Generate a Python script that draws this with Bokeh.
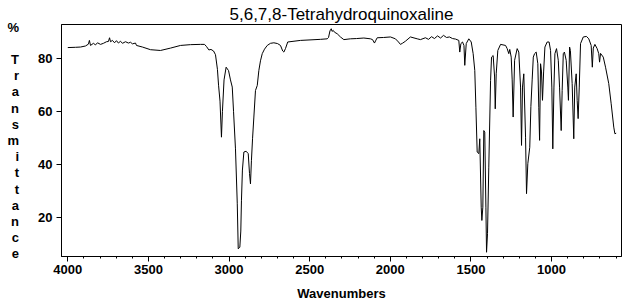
from bokeh.plotting import figure
from bokeh.models import Range1d, FixedTicker
from bokeh.embed import file_html
from bokeh.resources import INLINE

title_text = "5,6,7,8-Tetrahydroquinoxaline"
x_label = "Wavenumbers"
y_label_chars = ["%", "", "T", "r", "a", "n", "s", "m", "i", "t", "t", "a", "n", "c", "e"]

x_major_ticks = [4000, 3500, 3000, 2500, 2000, 1500, 1000]
x_minor_ticks = [4000, 3900, 3800, 3700, 3600, 3500, 3400, 3300, 3200, 3100, 3000, 2900, 2800,
                 2700, 2600, 2500, 2400, 2300, 2200, 2100, 2000, 1900, 1800, 1700, 1600, 1500,
                 1400, 1300, 1200, 1100, 1000, 900, 800, 700, 600]
y_major_ticks = [20, 40, 60, 80]

wavenumbers = [
    4000, 3952, 3921, 3890, 3872, 3866, 3859, 3841, 3828, 3816, 3797, 3779, 3760, 3748, 3741,
    3735, 3723, 3710, 3698, 3686, 3673, 3661, 3642, 3624, 3611, 3599, 3580, 3574, 3537, 3487,
    3425, 3363, 3301, 3239, 3177, 3152, 3140, 3125, 3112, 3096, 3084, 3072, 3065, 3056, 3050,
    3047, 3041, 3031, 3018, 3003, 2991, 2980, 2972, 2960, 2949, 2943, 2933, 2927, 2923, 2917,
    2908, 2894, 2881, 2873, 2867, 2861, 2854, 2846, 2836, 2825, 2815, 2805, 2794, 2780, 2763,
    2743, 2722, 2699, 2681, 2667, 2660, 2650, 2636, 2557, 2433, 2391, 2383, 2374, 2366, 2361,
    2354, 2346, 2329, 2309, 2288, 2247, 2209, 2164, 2123, 2110, 2098, 2089, 2081, 2042, 1999,
    1968, 1949, 1937, 1925, 1906, 1875, 1833, 1813, 1782, 1763, 1744, 1726, 1707, 1688, 1670,
    1651, 1633, 1614, 1595, 1575, 1569, 1562, 1552, 1543, 1538, 1529, 1513, 1498, 1486, 1476,
    1469, 1461, 1451, 1445, 1436, 1432, 1426, 1420, 1414, 1407, 1403, 1397, 1389, 1378, 1372,
    1362, 1353, 1349, 1343, 1333, 1316, 1285, 1275, 1265, 1259, 1250, 1244, 1238, 1229, 1213,
    1203, 1192, 1186, 1180, 1172, 1161, 1155, 1147, 1135, 1128, 1120, 1113, 1105, 1095, 1085,
    1079, 1074, 1068, 1062, 1056, 1049, 1041, 1027, 1015, 1006, 998, 992, 985, 979, 969,
    958, 950, 940, 934, 927, 920, 909, 899, 895, 888, 883, 872, 862, 856, 847,
    841, 835, 828, 820, 803, 783, 769, 754, 747, 741, 731, 717, 707, 702, 696,
    679, 665, 645, 630, 614, 607, 599,
]

transmittance = [
    84.2, 84.3, 84.4, 84.8, 85.5, 86.9, 85.0, 85.8, 85.2, 86.0, 85.4, 85.8, 86.4, 86.5, 87.9,
    86.4, 86.9, 86.0, 86.8, 85.9, 86.6, 85.8, 86.4, 85.9, 86.2, 85.6, 85.9, 85.0, 84.4, 83.4,
    83.1, 84.0, 85.0, 85.3, 85.4, 85.4, 84.6, 83.3, 83.5, 82.9, 81.5, 76.0, 70.0, 64.0, 55.0,
    50.4, 60.0, 72.0, 76.8, 75.5, 72.0, 69.3, 60.0, 46.0, 25.5, 8.3, 8.9, 15.0, 26.4, 38.0,
    44.8, 45.1, 44.2, 36.7, 32.8, 41.7, 50.0, 58.0, 68.0, 69.9, 75.6, 79.2, 81.9, 83.6, 85.0,
    85.8, 86.0, 85.7, 85.0, 82.9, 82.5, 83.8, 86.3, 86.9, 87.3, 87.5, 88.0, 90.5, 91.3, 90.3,
    90.7, 90.0, 89.4, 88.2, 87.2, 87.5, 87.6, 87.8, 87.5, 87.2, 85.9, 87.0, 87.9, 88.0, 88.2,
    87.5, 86.3, 85.4, 85.8, 86.6, 88.2, 87.5, 87.2, 87.9, 87.3, 88.3, 87.6, 88.6, 87.8, 88.8,
    88.0, 88.2, 87.6, 87.4, 86.9, 82.5, 85.7, 86.3, 85.0, 77.5, 85.7, 87.5, 86.3, 81.9, 75.6,
    61.7, 44.8, 44.2, 49.8, 24.0, 19.0, 24.0, 52.9, 52.3, 24.0, 7.0, 14.0, 39.1, 71.8, 80.6,
    81.2, 73.1, 61.1, 74.3, 83.1, 85.4, 85.0, 83.8, 81.9, 83.5, 80.6, 72.0, 58.0, 79.4, 83.8,
    82.5, 69.3, 47.3, 69.3, 74.3, 50.4, 29.1, 40.4, 46.6, 62.0, 72.0, 80.6, 81.9, 82.5, 78.1,
    61.7, 49.2, 78.1, 75.0, 64.3, 75.0, 84.4, 86.3, 86.3, 83.1, 69.3, 46.0, 69.3, 81.9, 83.8,
    79.4, 69.0, 52.9, 68.0, 81.9, 82.5, 79.4, 69.3, 64.3, 84.4, 83.1, 70.6, 49.8, 69.3, 74.3,
    64.3, 57.4, 69.3, 85.7, 88.2, 88.4, 87.5, 85.0, 76.8, 84.0, 85.4, 83.8, 81.9, 78.7, 82.0,
    80.6, 76.8, 70.6, 63.0, 54.2, 51.7, 51.9,
]

p = figure(width=638, height=303, output_backend="svg", toolbar_location=None,
           x_range=Range1d(4039, 566), y_range=Range1d(5.4, 92.9),
           min_border_left=61, min_border_right=17, min_border_top=24, min_border_bottom=47,
           title=title_text)
p.background_fill_color = "white"
p.border_fill_color = "white"
p.outline_line_color = "black"
p.outline_line_width = 1
p.grid.visible = False

p.title.align = "center"
p.title.text_font = "Liberation Sans"
p.title.text_font_style = "normal"
p.title.text_font_size = "17px"
p.title.text_color = "black"
p.title.standoff = 2
p.title.offset = 4

p.line(wavenumbers, transmittance, line_color="black", line_width=1)

xa = p.xaxis[0]
xa.ticker = FixedTicker(ticks=x_major_ticks, minor_ticks=x_minor_ticks)
xa.major_tick_out = 5
xa.major_tick_in = 0
xa.minor_tick_out = 2
xa.minor_tick_in = 0
xa.major_label_standoff = 3
xa.major_label_text_font = "Liberation Sans"
xa.major_label_text_font_style = "bold"
xa.major_label_text_font_size = "13px"
xa.major_label_text_color = "black"
xa.axis_line_color = "black"
xa.axis_label = x_label
xa.axis_label_standoff = 9
xa.axis_label_text_font = "Liberation Sans"
xa.axis_label_text_font_style = "bold"
xa.axis_label_text_font_size = "13px"
xa.axis_label_text_color = "black"

ya = p.yaxis[0]
ya.ticker = FixedTicker(ticks=y_major_ticks, minor_ticks=[])
ya.major_tick_out = 5
ya.major_tick_in = 0
ya.minor_tick_line_color = None
ya.major_label_standoff = 4
ya.major_label_text_font = "Liberation Sans"
ya.major_label_text_font_style = "bold"
ya.major_label_text_font_size = "13px"
ya.major_label_text_color = "black"
ya.axis_line_color = "black"
ya.axis_label = "\n".join(y_label_chars)
ya.axis_label_orientation = "horizontal"
ya.axis_label_standoff = 16
ya.axis_label_text_font = "Liberation Sans"
ya.axis_label_text_font_style = "bold"
ya.axis_label_text_font_size = "13px"
ya.axis_label_text_line_height = 1.08
ya.axis_label_text_align = "center"
ya.axis_label_text_color = "black"

open("out.html", "w").write(file_html(p, INLINE))
